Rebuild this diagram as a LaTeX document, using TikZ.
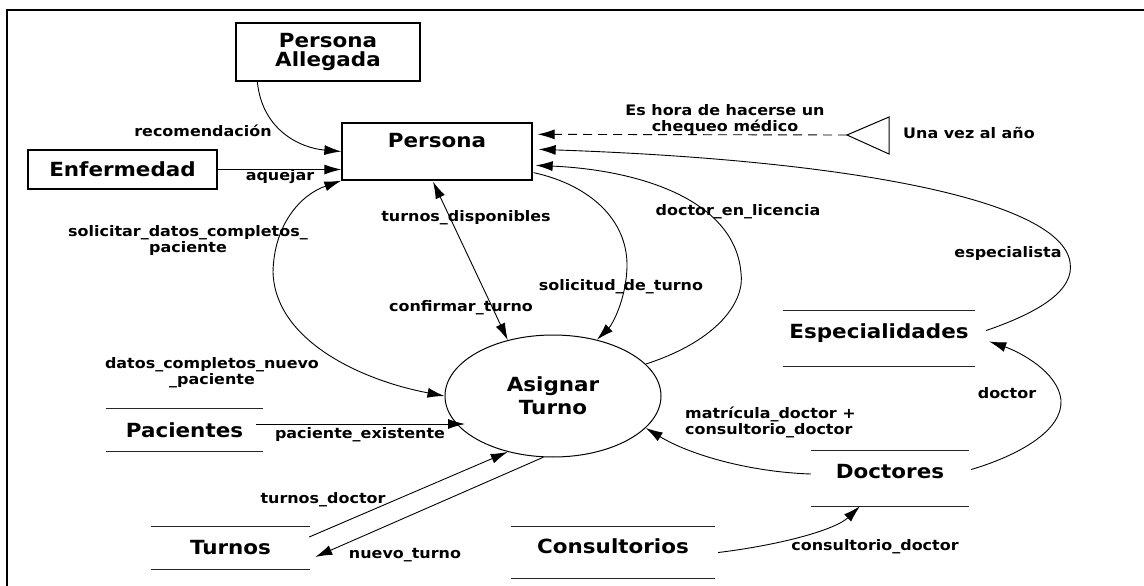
\documentclass[tikz,border=0pt]{standalone}
\usepackage{fontspec}
\setmainfont{DejaVu Sans}[FakeStretch=1.1]
\usetikzlibrary{arrows.meta,shapes.geometric}
\begin{document}
\begin{tikzpicture}[x=1pt,y=-1pt,
  lbl/.style={font=\fontsize{14.5}{16}\selectfont\bfseries, inner sep=0pt, align=center},
  ttl/.style={font=\fontsize{19.5}{19}\selectfont\bfseries, align=center},
  box/.style={draw, line width=1.3pt, ttl, inner sep=0pt},
  store/.style={ttl, inner sep=0pt},
  stline/.style={line width=1.3pt, draw=black!85},
  flow/.style={line width=0.9pt, -{Latex[length=17pt,width=10pt]}},
  flowtwo/.style={line width=0.9pt, {Latex[length=17pt,width=10pt]}-{Latex[length=17pt,width=10pt]}},
]
\useasboundingbox (0,0) rectangle (1144,586);
\draw[line width=2pt] (7,586) -- (7,10) -- (1144,10);

% external entities
\node[box, minimum width=184, minimum height=58] (pa) at (328,52) {Persona\\Allegada};
\node[box, minimum width=189, minimum height=39] (enf) at (122.5,169.5) {Enfermedad};
\node[box, minimum width=190, minimum height=57, text height=14pt, text depth=23pt] (per) at (437,151.5) {Persona};

% process
\node[draw, ellipse, line width=1pt, minimum width=216, minimum height=122,
      font=\fontsize{19.5}{23}\selectfont\bfseries, align=center] (at) at (553,396) {Asignar\\Turno};

% data stores
\node[store, minimum width=192, minimum height=55, text height=10pt, text depth=10pt] (esp) at (879,338.5) {Especialidades};
\node[store, minimum width=158, minimum height=55, text height=10pt, text depth=10pt] (doc) at (890,478.5) {Doctores};
\node[store, minimum width=204, minimum height=51, text height=10pt, text depth=8pt] (con) at (613,552.5) {Consultorios};
\node[store, minimum width=157, minimum height=42] (pac) at (184.5,430) {Pacientes};
\node[store, minimum width=159, minimum height=42] (tur) at (230.5,548) {Turnos};
\foreach \n in {esp,doc,con,pac,tur}
  \draw[stline] (\n.north west) -- (\n.north east) (\n.south west) -- (\n.south east);

% timer
\coordinate (tri) at (847,135);
\draw[line width=1pt] (tri) -- (889,117) -- (889,154) -- cycle;
\node[lbl, anchor=west] (una) at (903,133) {Una vez al año};

% connectors
\draw[flow] ([shift={(22,0)}]pa.south west) .. controls (262,130) and (300,148) .. (per.west);
\draw[flow] (enf.east) -- (enf.east -| per.west);
\draw[flowtwo] (at.west) .. controls (360,380) and (275,340) .. (273,272)
   .. controls (274,225) and (300,195) .. (per.south west);
\draw[flowtwo] ([shift={(-4,1)}]per.south) -- (at.129);
\draw[flow] ([shift={(1,-8)}]per.south east) .. controls (590,185) and (628,220) .. (627,267)
   .. controls (626,300) and (612,325) .. (at.52);
\draw[flow] (at.19) .. controls (720,340) and (745,300) .. (741,273)
   .. controls (735,200) and (640,170) .. ([shift={(3,43)}]per.north east);
\draw[flow] ([shift={(11,-8)}]esp.east) .. controls (1040,312) and (1075,290) .. (1070,262)
   .. controls (1060,200) and (850,160) .. ([shift={(6,27)}]per.north east);
\draw[flow, dash pattern=on 9pt off 6pt] (tri) -- ([shift={(5,12)}]per.north east);
\draw[flow] ([shift={(2,-9)}]doc.east) .. controls (1020,455) and (1063,430) .. (1061,400)
   .. controls (1058,372) and (1020,352) .. ([shift={(14,3)}]esp.east);
\draw[flow] ([shift={(0,-4.5)}]doc.west) .. controls (750,472) and (690,455) .. (at.-19);
\draw[flow] ([shift={(3,0)}]con.east) .. controls (780,545) and (835,530) .. ([shift={(-30,0)}]doc.south);
\draw[flow] ([shift={(-7,-6)}]pac.east) -- ([shift={(-88,28)}]at.center);
\draw[flow] ([shift={(-1,-11)}]tur.east) -- (at.231);
\draw[flow] (at.261) -- ([shift={(5,9)}]tur.east);

% labels
\node[lbl] (l1) at (203,131) {recomendación};
\node[lbl] (l2) at (280,177) {aquejar};
\node[lbl] (l3) at (725,119) {Es hora de hacerse un\\chequeo médico};
\node[lbl] (l4) at (188,240.5) {solicitar\_datos\_completos\_\\paciente};
\node[lbl] (l5) at (466,218) {turnos\_disponibles};
\node[lbl] (l6) at (461,308) {confirmar\_turno};
\node[lbl] (l7) at (621,287) {solicitud\_de\_turno};
\node[lbl] (l8) at (738,212) {doctor\_en\_licencia};
\node[lbl] (l9) at (1008,253) {especialista};
\node[lbl] (l10) at (212,373) {datos\_completos\_nuevo\\\_paciente};
\node[lbl] (l11) at (360,435) {paciente\_existente};
\node[lbl, anchor=west, align=left] (l12) at (685,422) {matrícula\_doctor +\\consultorio\_doctor};
\node[lbl] (l13) at (1007,393) {doctor};
\node[lbl] (l14) at (323,500) {turnos\_doctor};
\node[lbl] (l15) at (405,555) {nuevo\_turno};
\node[lbl] (l16) at (875,547) {consultorio\_doctor};
\end{tikzpicture}
\end{document}
